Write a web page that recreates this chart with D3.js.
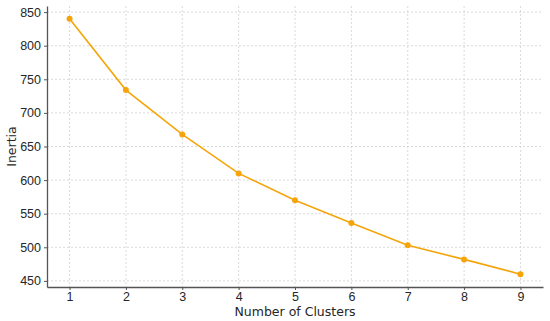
<!DOCTYPE html>
<html>
<head>
<meta charset="utf-8">
<script src="https://cdn.jsdelivr.net/npm/d3@7"></script>
<style>
  body { margin: 0; background: #fff; }
  svg { display: block; font-family: 'DejaVu Sans', sans-serif; }
  .axis text { font-size: 12.5px; fill: #262626; }
  .axis path, .axis line { stroke: #555; }
</style>
</head>
<body>
<script>
'use strict'

const clusters = [1, 2, 3, 4, 5, 6, 7, 8, 9]
const inertia = [840, 734, 668, 610, 570, 536, 503, 482, 460]
const yTicks = [450, 500, 550, 600, 650, 700, 750, 800, 850]

const width = 550
const height = 321
const margin = { top: 6, right: 7, bottom: 34, left: 47 }

const svg = d3.select('body').append('svg')
  .attr('width', width)
  .attr('height', height)

const x = d3.scaleLinear()
  .domain([0.6, 9.4])
  .range([margin.left, width - margin.right])

const y = d3.scaleLinear()
  .domain([440.9, 859.1])
  .range([height - margin.bottom, margin.top])

// grid
const grid = svg.append('g')
  .attr('stroke', '#d0d0d0')
  .attr('stroke-width', 0.8)
  .attr('stroke-dasharray', '2,2')

grid.selectAll('line.gx')
  .data(clusters)
  .enter()
  .append('line')
  .attr('x1', d => x(d))
  .attr('x2', d => x(d))
  .attr('y1', margin.top)
  .attr('y2', height - margin.bottom)

grid.selectAll('line.gy')
  .data(yTicks)
  .enter()
  .append('line')
  .attr('x1', margin.left)
  .attr('x2', width - margin.right)
  .attr('y1', d => y(d))
  .attr('y2', d => y(d))

// axes
const xAxis = svg.append('g')
  .attr('class', 'axis')
  .attr('transform', 'translate(0,' + (height - margin.bottom) + ')')
  .call(d3.axisBottom(x).tickValues(clusters).tickSize(3).tickPadding(2).tickSizeOuter(0))

const yAxis = svg.append('g')
  .attr('class', 'axis')
  .attr('transform', 'translate(' + margin.left + ',0)')
  .call(d3.axisLeft(y).tickValues(yTicks).tickSize(3).tickPadding(3).tickSizeOuter(0))

xAxis.select('.domain').attr('stroke-width', 1.3)
yAxis.select('.domain').attr('stroke-width', 1.3)

svg.append('text')
  .attr('x', (margin.left + width - margin.right) / 2)
  .attr('y', 316)
  .attr('text-anchor', 'middle')
  .attr('font-size', 12.5)
  .attr('fill', '#262626')
  .text('Number of Clusters')

svg.append('text')
  .attr('transform', 'translate(16,' + (margin.top + height - margin.bottom) / 2 + ') rotate(-90)')
  .attr('text-anchor', 'middle')
  .attr('font-size', 12.5)
  .attr('fill', '#262626')
  .text('Inertia')

// line + points
const data = clusters.map((c, i) => ({ c: c, v: inertia[i] }))

svg.append('path')
  .datum(data)
  .attr('fill', 'none')
  .attr('stroke', '#f5a50a')
  .attr('stroke-width', 1.6)
  .attr('d', d3.line().x(d => x(d.c)).y(d => y(d.v)))

svg.selectAll('circle')
  .data(data)
  .enter()
  .append('circle')
  .attr('cx', d => x(d.c))
  .attr('cy', d => y(d.v))
  .attr('r', 3)
  .attr('fill', '#f5a50a')
</script>
</body>
</html>
